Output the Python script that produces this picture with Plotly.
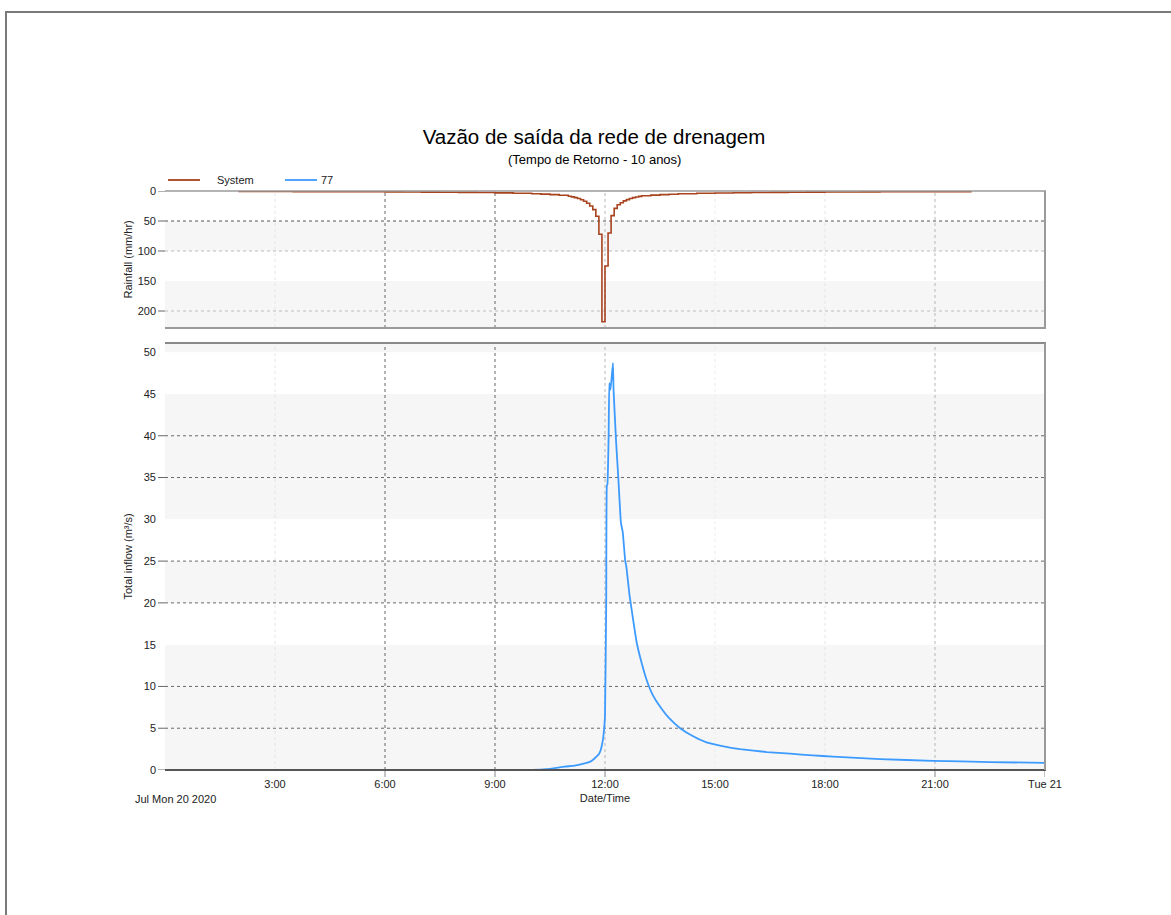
import plotly.graph_objects as go

W, H = 1171, 915
DAY = "2020-07-20 "

# ---------------- data ----------------
rain_times = ["02:00", "02:30", "03:00", "03:30", "04:00", "04:30", "05:00", "05:30",
              "06:00", "06:30", "07:00", "07:30", "08:00", "08:30", "09:00", "09:30",
              "10:00", "10:15", "10:30", "10:45",
              "11:00", "11:05", "11:10", "11:15", "11:20", "11:25", "11:30", "11:35",
              "11:40", "11:45", "11:50", "11:55",
              "12:00", "12:05", "12:10", "12:15", "12:20", "12:25", "12:30", "12:35",
              "12:40", "12:45", "12:50", "12:55",
              "13:00", "13:15", "13:30", "13:45",
              "14:00", "14:30", "15:00", "15:30", "16:00", "16:30", "17:00", "17:30",
              "18:00", "18:30", "19:00", "19:30", "20:00", "20:30", "21:00", "21:30", "22:00"]
rain_values = [0.85, 0.9, 0.95, 1.0, 1.1, 1.15, 1.25, 1.35,
               1.45, 1.6, 1.8, 2.0, 2.3, 2.6, 3.1, 3.8,
               4.6, 5.2, 6.0, 7.0,
               8.8, 9.8, 11.0, 12.5, 14.5, 17.0, 20.5, 25.0,
               31.0, 42.0, 72.0, 218.0,
               125.0, 70.0, 41.0, 29.0, 23.0, 19.5, 16.5, 14.3,
               12.5, 11.0, 10.0, 9.0,
               7.8, 6.8, 6.0, 5.3,
               4.5, 3.8, 3.3, 2.9, 2.6, 2.3, 2.1, 1.9,
               1.7, 1.6, 1.45, 1.35, 1.25, 1.15, 1.05, 1.0, 1.0]

inflow_times = ["2020-07-20 00:00", "2020-07-20 10:00", "2020-07-20 10:24", "2020-07-20 10:54",
                "2020-07-20 11:10", "2020-07-20 11:22", "2020-07-20 11:30", "2020-07-20 11:36",
                "2020-07-20 11:41", "2020-07-20 11:46", "2020-07-20 11:50", "2020-07-20 11:53",
                "2020-07-20 11:55", "2020-07-20 11:57", "2020-07-20 11:58", "2020-07-20 11:59",
                "2020-07-20 12:00", "2020-07-20 12:02",
                "2020-07-20 12:03", "2020-07-20 12:04", "2020-07-20 12:06", "2020-07-20 12:07",
                "2020-07-20 12:09", "2020-07-20 12:13", "2020-07-20 12:14", "2020-07-20 12:18",
                "2020-07-20 12:22", "2020-07-20 12:26", "2020-07-20 12:29", "2020-07-20 12:33",
                "2020-07-20 12:35", "2020-07-20 12:40", "2020-07-20 12:46", "2020-07-20 12:52",
                "2020-07-20 13:00", "2020-07-20 13:08", "2020-07-20 13:18", "2020-07-20 13:30",
                "2020-07-20 13:45", "2020-07-20 14:03", "2020-07-20 14:25", "2020-07-20 14:46",
                "2020-07-20 15:10", "2020-07-20 15:41", "2020-07-20 16:25", "2020-07-20 17:03",
                "2020-07-20 17:40", "2020-07-20 18:13", "2020-07-20 19:30", "2020-07-20 20:57",
                "2020-07-20 22:30", "2020-07-21 00:00"]
inflow_values = [0.0, 0.0, 0.09, 0.4,
                 0.52, 0.7, 0.85, 1.0,
                 1.25, 1.6, 1.9, 2.4,
                 3.0, 3.8, 4.5, 5.3,
                 6.5, 20.0,
                 34.0, 34.2, 40.3, 46.3,
                 45.5, 48.7, 45.5, 39.5,
                 34.7, 29.6, 28.5, 25.1,
                 24.3, 21.0, 18.0, 15.2,
                 12.8, 10.8, 9.0, 7.6,
                 6.2, 5.0, 4.0, 3.3,
                 2.9, 2.5, 2.15, 1.95,
                 1.75, 1.6, 1.3, 1.1,
                 0.95, 0.85]

x_tick_vals = ["2020-07-20 03:00", "2020-07-20 06:00", "2020-07-20 09:00", "2020-07-20 12:00",
               "2020-07-20 15:00", "2020-07-20 18:00", "2020-07-20 21:00", "2020-07-21 00:00"]
x_tick_text = ["3:00", "6:00", "9:00", "12:00", "15:00", "18:00", "21:00", "Tue 21"]
rain_ticks = [0, 50, 100, 150, 200]
flow_ticks = [0, 5, 10, 15, 20, 25, 30, 35, 40, 45, 50]
series_names = ["System", "77"]

X_RANGE = ["2020-07-20 00:00", "2020-07-21 00:00"]
RAIN_RANGE = [228.3, 0]
FLOW_RANGE = [0, 51.1]

# ---------------- helpers (page pixels -> paper; body margin removed) ----------------
OFF = 0

def px(x):
    return (x - OFF) / W

def py(y):
    return 1 - (y - OFF) / H

L, R = 165, 1045
UT, UB = 191, 328
LT, LB = 343, 770

FONT = "Arial, Liberation Sans, sans-serif"
BROWN = "#a8431e"
BLUE = "#3d9bff"
BAND = "#f6f6f6"

fig = go.Figure()
fig.add_trace(go.Scatter(
    x=[DAY + t for t in rain_times], y=rain_values, name=series_names[0],
    mode="lines", line=dict(color=BROWN, width=1.6, shape="hv"),
    xaxis="x", yaxis="y", showlegend=False))
fig.add_trace(go.Scatter(
    x=inflow_times, y=inflow_values, name=series_names[1],
    mode="lines", line=dict(color=BLUE, width=1.8, shape="spline", smoothing=0.3),
    xaxis="x2", yaxis="y2", showlegend=False))

shapes = []

# page border
shapes.append(dict(type="rect", xref="paper", yref="paper",
                   x0=px(6), x1=px(W + 40), y0=py(12), y1=py(H + 40),
                   line=dict(color="#7a7a7a", width=2), fillcolor="rgba(0,0,0,0)"))

# bands (upper)
for a, b in [(50, 100), (150, RAIN_RANGE[0])]:
    shapes.append(dict(type="rect", xref="paper", yref="y", x0=px(L), x1=px(R), y0=a, y1=b,
                       fillcolor=BAND, line=dict(width=0), layer="below"))
# bands (lower)
for a, b in [(0, 15), (20, 25), (30, 45), (50, FLOW_RANGE[1])]:
    shapes.append(dict(type="rect", xref="paper", yref="y2", x0=px(L), x1=px(R), y0=a, y1=b,
                       fillcolor=BAND, line=dict(width=0), layer="below"))

# horizontal grid lines
for v, c in [(50, "#555555"), (100, "#bdbdbd"), (200, "#bdbdbd")]:
    shapes.append(dict(type="line", xref="paper", yref="y", x0=px(L), x1=px(R), y0=v, y1=v,
                       line=dict(color=c, width=1, dash="dot"), layer="below"))
for v in [5, 10, 20, 25, 35, 40]:
    shapes.append(dict(type="line", xref="paper", yref="y2", x0=px(L), x1=px(R), y0=v, y1=v,
                       line=dict(color="#6a6a6a", width=1, dash="dot"), layer="below"))

# y tick marks
for v in [0, 50, 100, 200]:
    shapes.append(dict(type="line", xref="paper", yref="y", x0=px(158), x1=px(L), y0=v, y1=v,
                       line=dict(color="#666666", width=1)))
for v in [0, 5, 10, 20, 25, 35, 40]:
    shapes.append(dict(type="line", xref="paper", yref="y2", x0=px(158), x1=px(L), y0=v, y1=v,
                       line=dict(color="#666666", width=1)))

# vertical grid lines
vcols = {"2020-07-20 03:00": "#e4e4e4", "2020-07-20 06:00": "#666666",
         "2020-07-20 09:00": "#666666", "2020-07-20 12:00": "#b5b5b5",
         "2020-07-20 15:00": "#ececec", "2020-07-20 18:00": "#e4e4e4",
         "2020-07-20 21:00": "#b5b5b5"}
for t, c in vcols.items():
    shapes.append(dict(type="line", xref="x", yref="paper", x0=t, x1=t, y0=py(UB), y1=py(UT),
                       line=dict(color=c, width=1, dash="dot"), layer="below"))
    shapes.append(dict(type="line", xref="x2", yref="paper", x0=t, x1=t, y0=py(LB), y1=py(LT),
                       line=dict(color=c, width=1, dash="dot"), layer="below"))
# x tick marks below the lower axis
for t in ["2020-07-20 06:00", "2020-07-20 09:00", "2020-07-20 12:00",
          "2020-07-20 21:00", "2020-07-21 00:00"]:
    shapes.append(dict(type="line", xref="x2", yref="paper", x0=t, x1=t, y0=py(LB + 7), y1=py(LB),
                       line=dict(color="#888888", width=1)))

# frames
def hline(y, c, w):
    shapes.append(dict(type="line", xref="paper", yref="paper", x0=px(L), x1=px(R + 1),
                       y0=py(y), y1=py(y), line=dict(color=c, width=w)))

def vline(x, y0, y1, c, w):
    shapes.append(dict(type="line", xref="paper", yref="paper", x0=px(x), x1=px(x),
                       y0=py(y0), y1=py(y1), line=dict(color=c, width=w)))

hline(UT, "#9a9a9a", 1.5)
hline(UB, "#9a9a9a", 2)
vline(R, UT, UB, "#9a9a9a", 2)
hline(LT, "#8a8a8a", 2)
hline(LB, "#555555", 2)
vline(R, LT, LB, "#9a9a9a", 2)

# legend (manual)
LEG_Y = 180
for (x0, x1), col in [((168, 200), BROWN), ((285, 317), BLUE)]:
    shapes.append(dict(type="line", xref="paper", yref="paper", x0=px(x0), x1=px(x1),
                       y0=py(LEG_Y), y1=py(LEG_Y), line=dict(color=col, width=1.8)))

axis_font = dict(family=FONT, size=11, color="#222222")

annotations = [
    dict(text="(Tempo de Retorno - 10 anos)", xref="paper", yref="paper",
         x=px(594), y=py(160), xanchor="center", yanchor="middle", showarrow=False,
         font=dict(family=FONT, size=13, color="#000000")),
    dict(text="Jul Mon 20 2020", xref="paper", yref="paper",
         x=px(176), y=py(799), xanchor="center", yanchor="middle", showarrow=False,
         font=axis_font),
    dict(text="Rainfall (mm/hr)", xref="paper", yref="paper", textangle=-90,
         x=px(127), y=py((UT + UB) / 2), xanchor="center", yanchor="middle", showarrow=False,
         font=axis_font),
    dict(text="Total inflow (m³/s)", xref="paper", yref="paper", textangle=-90,
         x=px(127), y=py((LT + LB) / 2), xanchor="center", yanchor="middle", showarrow=False,
         font=axis_font),
    dict(text=series_names[0], xref="paper", yref="paper",
         x=px(215), y=py(LEG_Y), xanchor="left", yanchor="middle", showarrow=False,
         font=axis_font),
    dict(text=series_names[1], xref="paper", yref="paper",
         x=px(319), y=py(LEG_Y), xanchor="left", yanchor="middle", showarrow=False,
         font=axis_font),
]

fig.update_layout(
    width=W, height=H,
    margin=dict(l=0, r=0, t=0, b=0),
    paper_bgcolor="white", plot_bgcolor="rgba(0,0,0,0)",
    font=dict(family=FONT, size=11, color="#222222"),
    showlegend=False,
    title=dict(text="Vazão de saída da rede de drenagem", x=px(594), y=py(137),
               xanchor="center", yanchor="middle",
               font=dict(family=FONT, size=20.5, color="#000000")),
    xaxis=dict(domain=[px(L), px(R)], anchor="y", range=X_RANGE, type="date",
               showgrid=False, zeroline=False, showline=False, showticklabels=False,
               ticks="", fixedrange=True),
    xaxis2=dict(domain=[px(L), px(R)], anchor="y2", range=X_RANGE, type="date",
                showgrid=False, zeroline=False, showline=False,
                tickmode="array", tickvals=x_tick_vals, ticktext=x_tick_text,
                ticks="", tickfont=axis_font, ticklabelstandoff=6,
                title=dict(text="Date/Time", font=axis_font, standoff=5), automargin=False),
    yaxis=dict(domain=[py(UB), py(UT)], anchor="x", range=RAIN_RANGE,
               showgrid=False, zeroline=False, showline=False,
               tickmode="array", tickvals=rain_ticks, ticks="", tickfont=axis_font,
               ticklabelstandoff=8, automargin=False),
    yaxis2=dict(domain=[py(LB), py(LT)], anchor="x2", range=FLOW_RANGE,
                showgrid=False, zeroline=False, showline=False,
                tickmode="array", tickvals=flow_ticks, ticks="", tickfont=axis_font,
                ticklabelstandoff=8, automargin=False),
    shapes=shapes,
    annotations=annotations,
)

fig.write_html("out.html",
               config={"displayModeBar": False},
               post_script="document.body.style.margin='0px';document.body.style.overflow='hidden';")
